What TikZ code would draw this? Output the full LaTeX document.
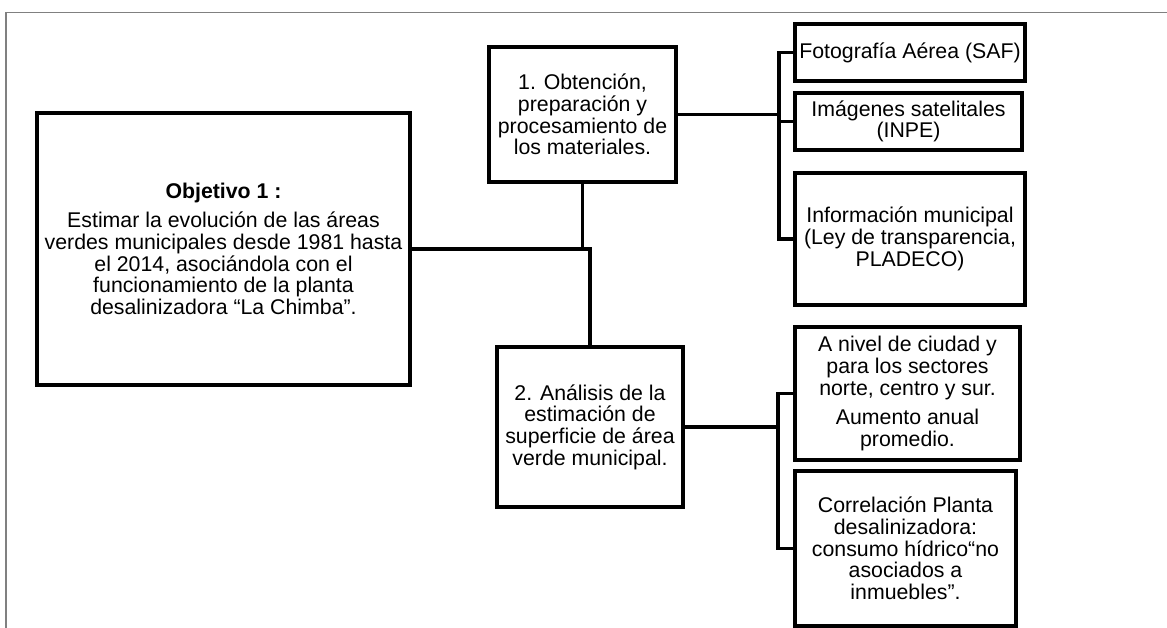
\documentclass[tikz,border=0pt]{standalone}
\usepackage{fontspec}
\setmainfont{Liberation Sans}
\begin{document}
\begin{tikzpicture}[x=1pt,y=-1pt,
  box/.style={draw=black, line width=3.5pt, inner sep=0pt, outer sep=0pt,
    align=center, font=\fontsize{21.3}{21.7}\selectfont},
  link/.style={draw=black, line width=3.5pt},
  frame/.style={draw=black!50, line width=1.2pt}]
\useasboundingbox (0,0) rectangle (1167,628);
\fill[white] (0,0) rectangle (1167,628);
\draw[frame] (6,628) -- (6,12.5) -- (1167,12.5);

\node[box, minimum width=373pt, minimum height=272pt] (obj) at (223.5,249)
  {\textbf{Objetivo 1 :}\\[7.5pt]
   Estimar la evolución de las áreas\\
   verdes municipales desde 1981 hasta\\
   el 2014, asociándola con el\\
   funcionamiento de la planta\\
   desalinizadora “La Chimba”.};
\node[box, minimum width=187pt, minimum height=135pt] (b1) at (582.5,114.5)
  {1. Obtención,\\preparación y\\procesamiento de\\los materiales.};
\node[box, minimum width=186pt, minimum height=160pt] (b2) at (590,427)
  {2. Análisis de la\\estimación de\\superficie de área\\verde municipal.};
\node[box, minimum width=230pt, minimum height=57pt] (saf) at (910,52.5)
  {Fotografía Aérea (SAF)};
\node[box, minimum width=227pt, minimum height=57pt] (inpe) at (908.5,121.5)
  {Imágenes satelitales\\(INPE)};
\node[box, minimum width=230pt, minimum height=132pt] (info) at (910,239)
  {Información municipal\\(Ley de transparencia,\\PLADECO)};
\node[box, minimum width=225pt, minimum height=133pt] (aniv) at (907.5,393.5)
  {A nivel de ciudad y\\para los sectores\\norte, centro y sur.\\[7.5pt]Aumento anual\\promedio.};
\node[box, minimum width=221pt, minimum height=155pt] (corr) at (905.5,548.5)
  {Correlación Planta\\desalinizadora:\\consumo hídrico“no\\asociados a\\inmuebles”.};

\coordinate (ta) at (779,0);
\coordinate (tb) at (778,0);

\draw[link] (obj.east) -| (b2.north);
\draw[link] (b1.south) -- (b1.south |- obj.east);
\draw[link] (b1.east) -- (b1.east -| ta);
\draw[link] (saf.west) -- (saf.west -| ta) -- (info.west -| ta) -- (info.west);
\draw[link] (inpe.west) -- (inpe.west -| ta);
\draw[link] (b2.east) -- (b2.east -| tb);
\draw[link] (aniv.west) -- (aniv.west -| tb) -- (corr.west -| tb) -- (corr.west);
\end{tikzpicture}
\end{document}
